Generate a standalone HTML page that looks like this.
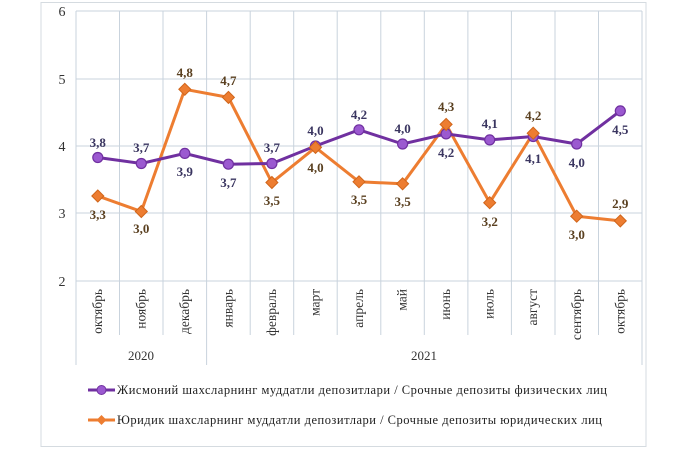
<!DOCTYPE html>
<html><head><meta charset="utf-8"><style>
html,body{margin:0;padding:0;background:#fff;}
svg{display:block;font-family:"Liberation Serif",serif;}
</style></head><body>
<svg width="680" height="453" viewBox="0 0 680 453" xmlns="http://www.w3.org/2000/svg">
<rect x="41" y="2.5" width="605" height="444" fill="#fff" stroke="#d5dbe0" stroke-width="1"/>
<g stroke="#c9d3dd" stroke-width="1">
<line x1="76" y1="11" x2="642" y2="11"/>
<line x1="76" y1="79" x2="642" y2="79"/>
<line x1="76" y1="146" x2="642" y2="146"/>
<line x1="76" y1="213" x2="642" y2="213"/>
<line x1="76" y1="281" x2="642" y2="281"/>
<line x1="76" y1="11" x2="76" y2="365"/>
<line x1="119.5" y1="11" x2="119.5" y2="335"/>
<line x1="163" y1="11" x2="163" y2="335"/>
<line x1="206.6" y1="11" x2="206.6" y2="365"/>
<line x1="250.2" y1="11" x2="250.2" y2="335"/>
<line x1="293.7" y1="11" x2="293.7" y2="335"/>
<line x1="337.2" y1="11" x2="337.2" y2="335"/>
<line x1="380.8" y1="11" x2="380.8" y2="335"/>
<line x1="424.3" y1="11" x2="424.3" y2="335"/>
<line x1="467.9" y1="11" x2="467.9" y2="335"/>
<line x1="511.4" y1="11" x2="511.4" y2="335"/>
<line x1="555" y1="11" x2="555" y2="335"/>
<line x1="598.5" y1="11" x2="598.5" y2="335"/>
<line x1="642" y1="11" x2="642" y2="365"/>
</g>
<g font-size="14" fill="#333" text-anchor="middle">
<text x="62" y="16">6</text><text x="62" y="84">5</text><text x="62" y="151">4</text><text x="62" y="218">3</text><text x="62" y="286">2</text>
</g>
<g font-size="13.5" fill="#333" text-anchor="end">
<text transform="translate(102,289) rotate(-90)">октябрь</text>
<text transform="translate(145.5,289) rotate(-90)">ноябрь</text>
<text transform="translate(189,289) rotate(-90)">декабрь</text>
<text transform="translate(232.5,289) rotate(-90)">январь</text>
<text transform="translate(276,289) rotate(-90)">февраль</text>
<text transform="translate(319.5,289) rotate(-90)">март</text>
<text transform="translate(363,289) rotate(-90)">апрель</text>
<text transform="translate(406.5,289) rotate(-90)">май</text>
<text transform="translate(450,289) rotate(-90)">июнь</text>
<text transform="translate(493.5,289) rotate(-90)">июль</text>
<text transform="translate(537,289) rotate(-90)">август</text>
<text transform="translate(581,289) rotate(-90)">сентябрь</text>
<text transform="translate(624.5,289) rotate(-90)">октябрь</text>
</g>
<g font-size="13" fill="#333" text-anchor="middle">
<text x="141" y="360">2020</text><text x="424" y="360">2021</text>
</g>
<polyline fill="none" stroke="#ed7d31" stroke-width="3" points="97.8,196 141.3,211.5 184.8,89.3 228.4,97.4 271.9,182.5 315.5,147.4 359,181.8 402.6,183.8 446.1,124.4 489.7,202.7 533.2,133.2 576.7,216.2 620.3,220.9"/>
<polyline fill="none" stroke="#7030a0" stroke-width="3" points="97.8,157.5 141.3,163.5 184.8,153.4 228.4,164.2 271.9,163.5 315.5,146 359,129.8 402.6,144 446.1,133.9 489.7,139.9 533.2,136.5 576.7,144 620.3,110.9"/>
<g fill="#9b59d0" stroke="#7030a0" stroke-width="1.2">
<circle cx="97.8" cy="157.5" r="5"/><circle cx="141.3" cy="163.5" r="5"/><circle cx="184.8" cy="153.4" r="5"/><circle cx="228.4" cy="164.2" r="5"/><circle cx="271.9" cy="163.5" r="5"/><circle cx="315.5" cy="146" r="5"/><circle cx="359" cy="129.8" r="5"/><circle cx="402.6" cy="144" r="5"/><circle cx="446.1" cy="133.9" r="5"/><circle cx="489.7" cy="139.9" r="5"/><circle cx="533.2" cy="136.5" r="5"/><circle cx="576.7" cy="144" r="5"/><circle cx="620.3" cy="110.9" r="5"/>
</g>
<g fill="#ed7d31" stroke="#d0651a" stroke-width="1">
<path d="M97.8 190l6 6-6 6-6-6z"/><path d="M141.3 205.5l6 6-6 6-6-6z"/><path d="M184.8 83.3l6 6-6 6-6-6z"/><path d="M228.4 91.4l6 6-6 6-6-6z"/><path d="M271.9 176.5l6 6-6 6-6-6z"/><path d="M315.5 141.4l6 6-6 6-6-6z"/><path d="M359 175.8l6 6-6 6-6-6z"/><path d="M402.6 177.8l6 6-6 6-6-6z"/><path d="M446.1 118.4l6 6-6 6-6-6z"/><path d="M489.7 196.7l6 6-6 6-6-6z"/><path d="M533.2 127.2l6 6-6 6-6-6z"/><path d="M576.7 210.2l6 6-6 6-6-6z"/><path d="M620.3 214.9l6 6-6 6-6-6z"/>
</g>
<g font-size="13" font-weight="bold" fill="#3a3560" text-anchor="middle">
<text x="97.8" y="147">3,8</text><text x="141.3" y="152">3,7</text><text x="184.8" y="176">3,9</text><text x="228.4" y="187">3,7</text><text x="271.9" y="152">3,7</text><text x="315.5" y="135">4,0</text><text x="359" y="119">4,2</text><text x="402.6" y="133">4,0</text><text x="446.1" y="157">4,2</text><text x="489.7" y="128">4,1</text><text x="533.2" y="163">4,1</text><text x="576.7" y="167">4,0</text><text x="620.3" y="134">4,5</text>
</g>
<g font-size="13" font-weight="bold" fill="#5a4020" text-anchor="middle">
<text x="97.8" y="219">3,3</text><text x="141.3" y="233">3,0</text><text x="184.8" y="77">4,8</text><text x="228.4" y="85">4,7</text><text x="271.9" y="205">3,5</text><text x="315.5" y="172">4,0</text><text x="359" y="204">3,5</text><text x="402.6" y="206">3,5</text><text x="446.1" y="111">4,3</text><text x="489.7" y="226">3,2</text><text x="533.2" y="120">4,2</text><text x="576.7" y="239">3,0</text><text x="620.3" y="208">2,9</text>
</g>
<line x1="88" y1="390" x2="115" y2="390" stroke="#7030a0" stroke-width="3"/>
<circle cx="101.5" cy="390" r="4.5" fill="#9b59d0" stroke="#7030a0"/>
<line x1="88" y1="420" x2="115" y2="420" stroke="#ed7d31" stroke-width="3"/>
<path d="M101.5 415l5 5-5 5-5-5z" fill="#ed7d31"/>
<g font-size="12.5" fill="#222">
<text x="117" y="394" textLength="490">Жисмоний шахсларнинг  муддатли  депозитлари  / Срочные депозиты  физических  лиц</text>
<text x="117" y="424" textLength="485">Юридик  шахсларнинг  муддатли  депозитлари  / Срочные депозиты  юридических  лиц</text>
</g>
</svg>
</body></html>
